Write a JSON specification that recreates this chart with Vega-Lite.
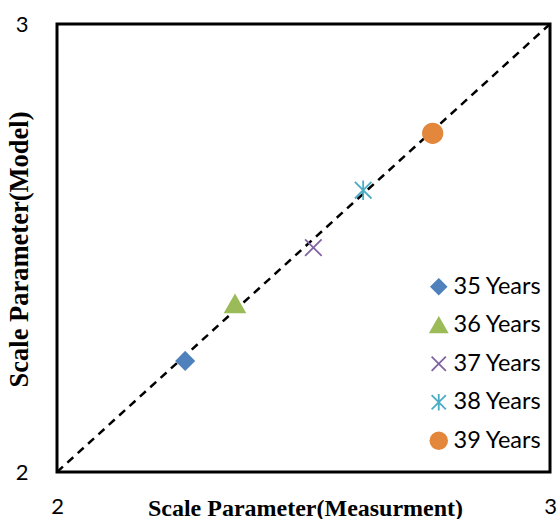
{
  "$schema": "https://vega.github.io/schema/vega-lite/v6.json",
  "width": 493,
  "height": 448,
  "autosize": "none",
  "padding": {"left": 57, "top": 24, "right": 8, "bottom": 47},
  "background": "white",
  "config": {
    "view": {"stroke": "black", "strokeWidth": 3},
    "font": "Lato"
  },
  "encoding": {
    "x": {
      "field": "measurement", "type": "quantitative",
      "scale": {"domain": [2, 3], "nice": false, "zero": false},
      "axis": {
        "values": [2, 3], "format": "d", "grid": false, "ticks": false, "domain": false,
        "labelFont": "Lato", "labelFontSize": 22, "labelColor": "black",
        "labelPadding": 24, "labelFlush": false,
        "title": "Scale Parameter(Measurment)",
        "titleFont": "Liberation Serif", "titleFontSize": 24, "titleFontWeight": "bold", "titleColor": "black",
        "titleBaseline": "middle", "titleY": 36, "titleX": 248
      }
    },
    "y": {
      "field": "model", "type": "quantitative",
      "scale": {"domain": [2, 3], "nice": false, "zero": false},
      "axis": {
        "values": [2, 3], "format": "d", "grid": false, "ticks": false, "domain": false,
        "labelFont": "Lato", "labelFontSize": 22, "labelColor": "black",
        "labelPadding": 29, "labelFlush": false,
        "title": "Scale Parameter(Model)",
        "titleFont": "Liberation Serif", "titleFontSize": 26.5, "titleFontWeight": "bold", "titleColor": "black",
        "titleAngle": -90, "titleAlign": "center", "titleBaseline": "middle", "titleX": -38, "titleY": 225
      }
    }
  },
  "layer": [
    {
      "data": {"values": [{"measurement": 2, "model": 2}, {"measurement": 3, "model": 3}]},
      "mark": {"type": "line", "color": "black", "strokeDash": [8, 6], "strokeWidth": 2.5, "clip": true}
    },
    {
      "data": {"values": [
        {"age": "35 Years", "measurement": 2.260, "model": 2.248},
        {"age": "36 Years", "measurement": 2.361, "model": 2.375},
        {"age": "37 Years", "measurement": 2.520, "model": 2.501},
        {"age": "38 Years", "measurement": 2.621, "model": 2.629},
        {"age": "39 Years", "measurement": 2.762, "model": 2.756}
      ]},
      "mark": {"type": "point", "opacity": 1, "strokeWidth": 1.8, "size": 380},
      "encoding": {
        "fill": {
          "field": "age", "type": "nominal",
          "scale": {"domain": ["35 Years", "36 Years", "37 Years", "38 Years", "39 Years"],
                    "range": ["#4F81BD", "#9BBB59", "transparent", "transparent", "#E2873B"]},
          "legend": {
            "title": null, "orient": "none", "legendX": 370, "legendY": 251,
            "labelFont": "Lato", "labelFontSize": 23.5, "labelColor": "black",
            "symbolSize": 280, "rowPadding": 13.5, "labelOffset": 3, "symbolStrokeWidth": 1.8,
            "padding": 0
          }
        },
        "stroke": {
          "field": "age", "type": "nominal",
          "scale": {"domain": ["35 Years", "36 Years", "37 Years", "38 Years", "39 Years"],
                    "range": ["#4F81BD", "#9BBB59", "#8064A2", "#4BACC6", "#E2873B"]}
        },
        "shape": {
          "field": "age", "type": "nominal",
          "scale": {"domain": ["35 Years", "36 Years", "37 Years", "38 Years", "39 Years"],
                    "range": ["M0,-0.9L0.9,0L0,0.9L-0.9,0Z", "M0,-0.9L1,0.85L-1,0.85Z", "M-0.85,-0.85L0.85,0.85M0.85,-0.85L-0.85,0.85", "M-0.85,-0.85L0.85,0.85M0.85,-0.85L-0.85,0.85M0,-1L0,1", "circle"]}
        }
      }
    }
  ]
}
